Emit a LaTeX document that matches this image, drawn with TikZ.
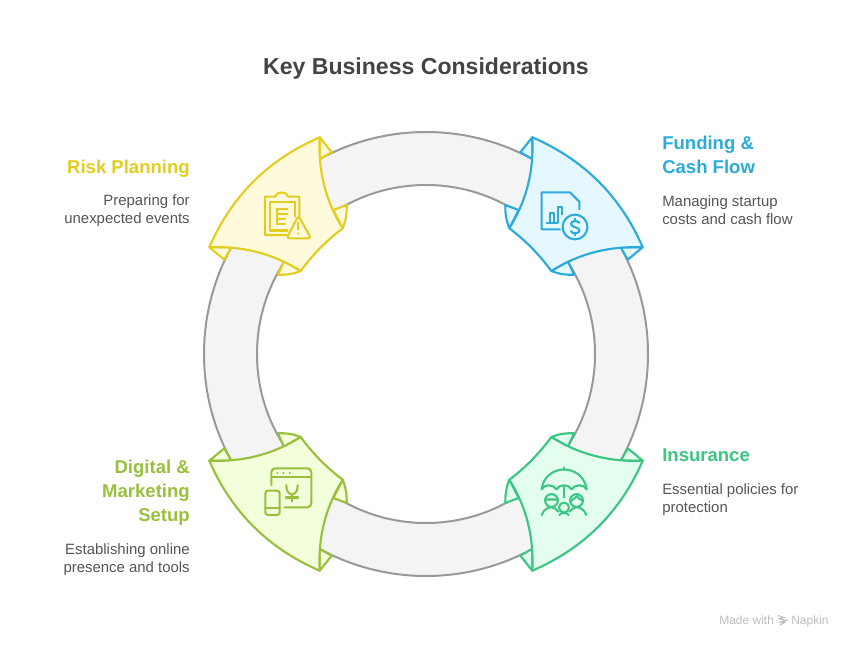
\documentclass[tikz,border=0pt]{standalone}
\usepackage{fontspec}
\setmainfont{Liberation Sans}
\definecolor{ylS}{HTML}{E2CD20}\definecolor{ylF}{HTML}{FFFADB}
\definecolor{blS}{HTML}{2AABD9}\definecolor{blF}{HTML}{E6F8FF}
\definecolor{grS}{HTML}{3CC583}\definecolor{grF}{HTML}{E3FEEF}
\definecolor{lmS}{HTML}{98C03C}\definecolor{lmF}{HTML}{F2FFDA}
\definecolor{ringF}{HTML}{F4F4F4}\definecolor{ringS}{HTML}{999999}
\definecolor{bodyT}{HTML}{555555}\definecolor{titleT}{HTML}{444444}\definecolor{markT}{HTML}{BDBDBD}
\tikzset{
  outline/.style={line width=1.6pt,line join=round,line cap=round},
  iconline/.style={line width=1.55pt,line join=round,line cap=round,fill=none},
  titletext/.style={inner sep=0pt,font=\fontsize{17.3}{22}\selectfont\bfseries,text=titleT},
  headL/.style={inner sep=0pt,align=left,anchor=west,font=\fontsize{13.9}{18}\selectfont\bfseries},
  headR/.style={inner sep=0pt,align=right,anchor=east,font=\fontsize{13.9}{18}\selectfont\bfseries},
  bodyL/.style={inner sep=0pt,align=left,anchor=west,text=bodyT,font=\fontsize{11.2}{13.5}\selectfont},
  bodyR/.style={inner sep=0pt,align=right,anchor=east,text=bodyT,font=\fontsize{11.2}{13.5}\selectfont},
  marktext/.style={inner sep=0pt,text=markT,font=\fontsize{9}{10}\selectfont}
}
\newcommand{\quarter}[2]{%
  % flaps
  \draw[outline,draw=#1,fill=#2] (319.7,137.3) -- (331.7,152.3) -- (319.3,159.3) -- cycle;
  \draw[outline,draw=#1,fill=#2] (342.7,228.3) .. controls (346,220) and (347,212) .. (346.7,205) -- (333.3,210) -- cycle;
  \draw[outline,draw=#1,fill=#2] (209.3,247.3) -- (224.3,259.7) -- (231.3,247.3) -- cycle;
  \draw[outline,draw=#1,fill=#2] (300.7,271) .. controls (292,274.5) and (285,275) .. (278,274.7) -- (284,261.3) -- cycle;
  % body
  \draw[outline,draw=#1,fill=#2] (319.7,137.3)
    .. controls (268.2,159.6) and (231.4,196.2) .. (209.3,247.3)
    .. controls (242,246) and (272,253) .. (300.7,271)
    .. controls (312.6,254.7) and (326.6,240.4) .. (342.7,228.3)
    .. controls (325,200) and (318,170) .. (319.7,137.3) -- cycle;
}
\begin{document}
\begin{tikzpicture}[x=0.75pt,y=-0.75pt]
\useasboundingbox (0,0) rectangle (852,648);
\fill[white] (0,0) rectangle (852,648);
\node[titletext] (title) at (426,69) {Key Business Considerations};
% ring
\fill[ringF,even odd rule] (426,354) circle[radius=222] (426,354) circle[radius=169];
\draw[ringS,line width=1.5pt] (426,354) circle[radius=222];
\draw[ringS,line width=1.5pt] (426,354) circle[radius=169];
% four corner shapes
\quarter{ylS}{ylF}
\begin{scope}[shift={(852,0)},xscale=-1]\quarter{blS}{blF}\end{scope}
\begin{scope}[shift={(852,708)},xscale=-1,yscale=-1]\quarter{grS}{grF}\end{scope}
\begin{scope}[shift={(0,708)},yscale=-1]\quarter{lmS}{lmF}\end{scope}
% risk icon
\begin{scope}[iconline,draw=ylS]
  \draw (299.4,216.7) -- (299.4,196.7) -- (288.3,196.7) .. controls (287,191) and (276,191) .. (275,196.7) -- (265,196.7) -- (265,235) -- (286.7,235);
  \draw (295,216.7) -- (295,201.7) -- (270,201.7) -- (270,230.5) -- (287.5,230.5);
  \draw (276.7,209) -- (287.7,209) (276.7,214.3) -- (287.7,214.3) (276.7,219.3) -- (285,219.3) (276.7,224.3) -- (285,224.3) (276.7,209) -- (276.7,224.3);
  \draw[rounded corners=2pt,fill=ylF] (298.4,215.7) -- (311,238.3) -- (286.7,238.3) -- cycle;
  \draw (298.4,222.5) -- (298.4,229.5);
  \fill[ylS] (298.4,233.6) circle[radius=1.2];
\end{scope}
% funding icon
\begin{scope}[iconline,draw=blS]
  \draw (560,229.3) -- (541.7,229.3) -- (541.7,192.3) -- (570,192.3) -- (579.3,201.7) -- (579.3,209.3);
  \draw (546.7,222.7) -- (557.3,222.7) (550,222.7) -- (550,213.3) -- (554,213.3) -- (554,222.7);
  \draw (557.7,222.7) -- (557.7,206.7) -- (561.7,206.7) -- (561.7,214.3);
  \draw (575,227) circle[radius=12.4];
  \draw (579.3,222.8) .. controls (578,220.3) and (571,220.3) .. (571,224) .. controls (571,228) and (579.5,226.5) .. (579.5,230.5) .. controls (579.5,234) and (572,234) .. (570.8,231.2);
  \draw (575,218.6) -- (575,220.6) (575,233.4) -- (575,235.4);
\end{scope}
% insurance icon
\begin{scope}[iconline,draw=grS]
  \draw (541.7,489.3) .. controls (543,477) and (553,469.5) .. (564,469.5) .. controls (575,469.5) and (585,477) .. (586.7,489.3);
  \draw (541.7,489.3) .. controls (544,484) and (553,484) .. (556.5,489.3)
        .. controls (559,484) and (569,484) .. (571.5,489.3)
        .. controls (575,484) and (584,484) .. (586.7,489.3);
  \draw (564,467.5) -- (564,469.5) (564,487) -- (564,497.3);
  \draw (551.5,500.5) circle[radius=6.4] (545.2,499.5) -- (557.8,499.5);
  \draw (576.5,500.5) circle[radius=6.4];
  \draw (570.5,501) .. controls (574,499) and (576,497) .. (577,496) .. controls (578,498) and (580,500) .. (582.7,500.5);
  \draw (564,507.5) circle[radius=5];
  \draw (541.7,515) .. controls (544,509) and (548,507.3) .. (551.5,507.3) .. controls (554,507.3) and (556.5,509) .. (558.3,511.7);
  \draw (586.3,515) .. controls (584,509) and (580,507.3) .. (576.5,507.3) .. controls (574,507.3) and (571.5,509) .. (569.7,511.7);
  \draw (559.3,515) .. controls (560.5,512.3) and (567.5,512.3) .. (568.7,515);
\end{scope}
% digital icon
\begin{scope}[iconline,draw=lmS]
  \draw[rounded corners=3pt] (271.3,485) -- (271.3,468.3) -- (311.3,468.3) -- (311.3,507.3) -- (284.5,507.3);
  \draw (271.3,476.7) -- (311.3,476.7);
  \fill[lmS] (277.5,473) circle[radius=1.2] (283.5,473) circle[radius=1.2] (289.8,473) circle[radius=1.2];
  \draw (286.3,485) .. controls (286.3,491) and (288,493.5) .. (292,494.5) .. controls (296,493.5) and (297.6,491) .. (297.6,485);
  \draw (292,494.5) -- (292,501.7) (285.8,497.5) -- (298.2,497.5);
  \draw[rounded corners=2pt] (265.3,490.7) rectangle (279.7,515);
  \draw (265.3,508.3) -- (279.7,508.3);
\end{scope}
% labels
\node[headR,text=ylS] (riskH) at (190,168.5) {Risk Planning};
\node[bodyR] (riskB) at (190,211) {Preparing for\\unexpected events};
\node[headL,text=blS] (fundH) at (662,155) {Funding \&\\Cash Flow};
\node[bodyL] (fundB) at (662,210) {Managing startup\\costs and cash flow};
\node[headL,text=grS] (insH) at (662,455) {Insurance};
\node[bodyL] (insB) at (662,500) {Essential policies for\\protection};
\node[headR,text=lmS] (digH) at (190,493) {Digital \&\\Marketing\\Setup};
\node[bodyR] (digB) at (190,560) {Establishing online\\presence and tools};
% footer
\node[marktext,anchor=base west] (made) at (719,624) {Made with};
\node[marktext,anchor=base west] (napkin) at (791,624) {Napkin};
\draw[markT,line width=.8pt] (778,615.5) -- (784,617.5) -- (778.5,619) (778,618.5) -- (786.5,620.5) -- (779,622.5) (780,622) -- (784.5,622.5) -- (780,625);
\end{tikzpicture}
\end{document}
